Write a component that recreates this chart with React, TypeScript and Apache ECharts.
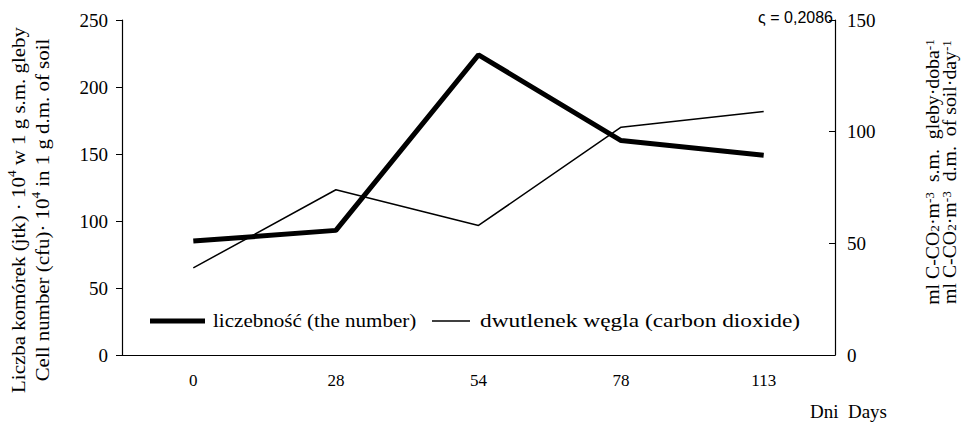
import React, { useEffect, useRef } from "react";
import * as echarts from "echarts";

const days = ["0", "28", "54", "78", "113"];
const cellNumber = [85, 93, 224, 160, 149];
const carbonDioxide = [39, 74, 58, 102, 109];
const leftTicks = [0, 50, 100, 150, 200, 250];
const rightTicks = [0, 50, 100, 150];
const seriesNames = ["liczebność (the number)", "dwutlenek węgla (carbon dioxide)"];

const SERIF = "'Liberation Serif', 'Times New Roman', serif";

export default function App() {
  const ref = useRef<HTMLDivElement>(null);
  useEffect(() => {
    if (!ref.current) return;
    const chart = echarts.init(ref.current, undefined, { renderer: "svg" });
    const rich = (lh: number, fs: number) => ({
      sup: { fontSize: fs, fontFamily: SERIF, verticalAlign: "top", lineHeight: lh, fill: "#000" },
      sub: { fontSize: fs, fontFamily: SERIF, verticalAlign: "bottom", lineHeight: lh, fill: "#000" },
    });
    chart.setOption({
      animation: false,
      backgroundColor: "#fff",
      grid: { left: 122, right: 128, top: 20, bottom: 71 },
      xAxis: {
        type: "category",
        data: days,
        boundaryGap: true,
        axisLine: { lineStyle: { color: "#000", width: 1.2 } },
        axisTick: { inside: true, length: 5, lineStyle: { color: "#000" } },
        axisLabel: { fontFamily: SERIF, fontSize: 17, color: "#000", margin: 17 },
      },
      yAxis: [
        {
          type: "value",
          min: leftTicks[0],
          max: leftTicks[leftTicks.length - 1],
          interval: 50,
          splitLine: { show: false },
          axisLine: { show: true, lineStyle: { color: "#000", width: 1.2 } },
          axisTick: { show: true, length: 6, lineStyle: { color: "#000" } },
          axisLabel: { fontFamily: SERIF, fontSize: 19, color: "#000", margin: 14 },
        },
        {
          type: "value",
          position: "right",
          min: rightTicks[0],
          max: rightTicks[rightTicks.length - 1],
          interval: 50,
          splitLine: { show: false },
          axisLine: { show: true, lineStyle: { color: "#000", width: 1.2 } },
          axisTick: { show: true, inside: true, length: 6, lineStyle: { color: "#000" } },
          axisLabel: { fontFamily: SERIF, fontSize: 19, color: "#000", margin: 12 },
        },
      ],
      series: [
        {
          name: seriesNames[0],
          type: "line",
          yAxisIndex: 0,
          data: cellNumber,
          symbol: "none",
          color: "#000",
          lineStyle: { color: "#000", width: 5 },
        },
        {
          name: seriesNames[1],
          type: "line",
          yAxisIndex: 1,
          data: carbonDioxide,
          symbol: "none",
          color: "#000",
          lineStyle: { color: "#000", width: 1.5 },
        },
      ],
      graphic: [
        // legend
        {
          type: "line",
          shape: { x1: 150, y1: 321, x2: 205, y2: 321 },
          style: { stroke: "#000", lineWidth: 5 },
        },
        {
          type: "text",
          x: 213,
          y: 321,
          scaleX: 1.17,
          style: {
            text: seriesNames[0],
            font: `18px ${SERIF}`,
            fill: "#000",
            align: "left",
            verticalAlign: "middle",
          },
        },
        {
          type: "line",
          shape: { x1: 432, y1: 321, x2: 470, y2: 321 },
          style: { stroke: "#000", lineWidth: 1.5 },
        },
        {
          type: "text",
          x: 480,
          y: 321,
          scaleX: 1.3,
          style: {
            text: seriesNames[1],
            font: `18px ${SERIF}`,
            fill: "#000",
            align: "left",
            verticalAlign: "middle",
          },
        },
        // axis titles
        {
          type: "text",
          x: 30,
          y: 210,
          rotation: Math.PI / 2,
          scaleX: 1.1,
          style: {
            text:
              "Liczba komórek (jtk) · 10{sup|4} w 1 g s.m. gleby\nCell number (cfu)· 10{sup|4} in 1 g d.m. of soil",
            font: `19px ${SERIF}`,
            fill: "#000",
            align: "center",
            verticalAlign: "middle",
            lineHeight: 24,
            rich: rich(24, 12),
          },
        },
        {
          type: "text",
          x: 941,
          y: 172,
          rotation: Math.PI / 2,
          scaleX: 1.1,
          style: {
            text:
              "ml C-CO{sub|2}·m{sup|-3}  s.m.  gleby·doba{sup|-1}\nml C-CO{sub|2}·m{sup|-3}  d.m.  of soil·day{sup|-1}",
            font: `18px ${SERIF}`,
            fill: "#000",
            align: "center",
            verticalAlign: "middle",
            lineHeight: 17,
            rich: rich(17, 12),
          },
        },
        {
          type: "text",
          x: 833,
          y: 17,
          style: {
            text: "ς = 0,2086",
            font: "16px 'Liberation Sans', Arial, sans-serif",
            fill: "#000",
            align: "right",
            verticalAlign: "middle",
          },
        },
        {
          type: "text",
          x: 887,
          y: 411,
          style: {
            text: "Dni  Days",
            font: `19px ${SERIF}`,
            fill: "#000",
            align: "right",
            verticalAlign: "middle",
          },
        },
      ],
    });
    return () => chart.dispose();
  }, []);
  return (
    <div
      ref={ref}
      style={{ position: "absolute", left: 0, top: 0, width: 963, height: 426 }}
    />
  );
}
